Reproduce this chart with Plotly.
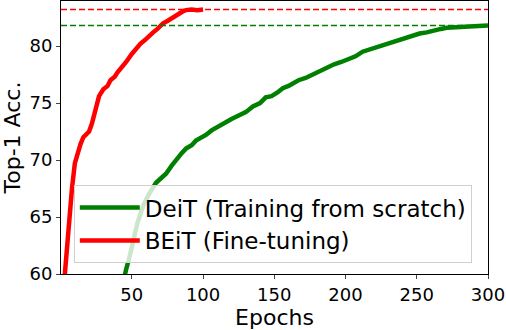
import plotly.graph_objects as go

beit_epochs = [1, 3, 5, 7, 8, 10, 12, 14, 16, 18, 20, 22, 24, 25, 27, 30, 33, 35, 38, 40,
               43, 46, 50, 53, 56, 59, 62, 65, 68, 70, 72, 75, 78, 81, 84, 86, 88, 92, 96, 100]
beit_acc = [55.0, 60.0, 63.0, 66.5, 67.5, 69.7, 70.6, 71.4, 72.0, 72.3, 72.5, 73.2, 74.2, 75.0,
            75.6, 76.2, 76.5, 77.0, 77.3, 77.7, 78.1, 78.6, 79.3, 79.8, 80.2, 80.5, 80.9, 81.2,
            81.5, 81.8, 82.0, 82.2, 82.4, 82.6, 82.9, 83.05, 83.15, 83.2, 83.15, 83.2]

deit_epochs = [40, 44, 46, 48, 51, 54, 58, 62, 67, 71, 74, 78, 81, 85, 88, 92, 95, 98, 102, 106,
               110, 115, 120, 125, 130, 135, 140, 144, 148, 152, 156, 160, 163, 167, 172, 177,
               182, 187, 192, 197, 202, 207, 212, 217, 222, 227, 233, 238, 243, 248, 252, 257,
               262, 267, 271, 276, 281, 286, 291, 296, 300]
deit_acc = [57.0, 59.5, 60.4, 61.3, 63.0, 64.5, 66.0, 67.0, 68.0, 68.4, 68.8, 69.5, 70.0, 70.6,
            71.0, 71.3, 71.7, 71.9, 72.2, 72.6, 72.9, 73.2, 73.6, 73.9, 74.2, 74.7, 75.0, 75.5,
            75.6, 75.9, 76.3, 76.5, 76.7, 77.0, 77.2, 77.5, 77.9, 78.1, 78.4, 78.6, 78.8, 79.1,
            79.5, 79.7, 79.9, 80.1, 80.4, 80.5, 80.7, 80.9, 81.1, 81.2, 81.4, 81.5, 81.6, 81.65,
            81.7, 81.75, 81.8, 81.85, 81.8]

deit_final = 81.8
beit_final = 83.2

x_ticks = [50, 100, 150, 200, 250, 300]
y_ticks = [60, 65, 70, 75, 80]

FONT = "DejaVu Sans"

fig = go.Figure()
fig.add_trace(go.Scatter(x=deit_epochs, y=deit_acc, mode="lines",
                         name="DeiT (Training from scratch)",
                         line=dict(color="green", width=4.5)))
fig.add_trace(go.Scatter(x=beit_epochs, y=beit_acc, mode="lines",
                         name="BEiT (Fine-tuning)",
                         line=dict(color="red", width=4.5)))

for val, col in [(deit_final, "green"), (beit_final, "red")]:
    fig.add_shape(type="line", xref="paper", x0=0, x1=1, yref="y", y0=val, y1=val,
                  line=dict(color=col, width=1.5, dash="6px,3px"))

fig.update_layout(
    width=506, height=330,
    margin=dict(l=61, r=18, t=1, b=56),
    paper_bgcolor="white", plot_bgcolor="white",
    font=dict(family=FONT, color="black"),
    showlegend=True,
    legend=dict(x=0.03, y=0.04, xanchor="left", yanchor="bottom",
                bgcolor="rgba(255,255,255,0.8)", bordercolor="#d0d0d0", borderwidth=1,
                font=dict(size=23, family=FONT), itemwidth=60),
)
fig.update_xaxes(range=[0.3, 300], tickvals=x_ticks, ticks="outside", ticklen=4,
                 showline=True, linecolor="black", linewidth=1, mirror=True,
                 showgrid=False, zeroline=False, tickfont=dict(size=18), automargin=False,
                 title=dict(text="Epochs", font=dict(size=22), standoff=1))
fig.update_yaxes(range=[60, 83.95], tickvals=y_ticks, ticks="outside", ticklen=4,
                 showline=True, linecolor="black", linewidth=1, mirror=True,
                 showgrid=False, zeroline=False, tickfont=dict(size=18), automargin=False,
                 title=dict(text="Top-1 Acc.", font=dict(size=22), standoff=6))

fig.write_html("out.html", config={"displayModeBar": False},
               post_script="document.body.style.margin='0';")
